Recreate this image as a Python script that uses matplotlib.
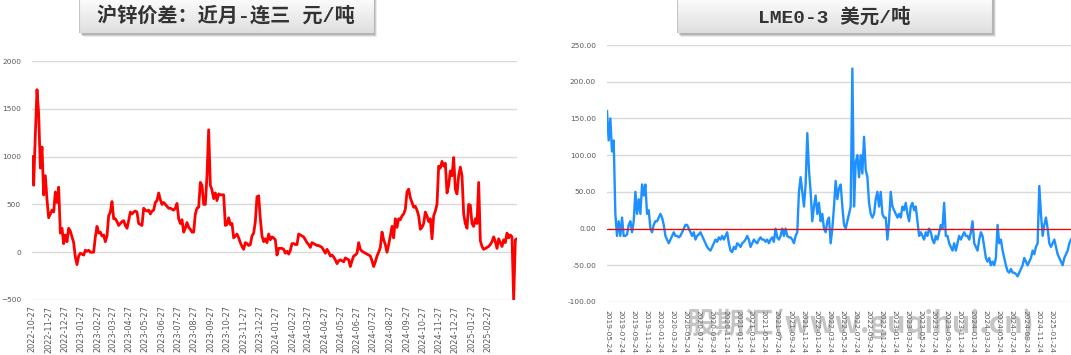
import numpy as np
import pandas as pd
import matplotlib
matplotlib.use('Agg')
import matplotlib.pyplot as plt
import matplotlib.dates as mdates
from matplotlib.patches import Rectangle
from matplotlib.ticker import FormatStrFormatter

# ---------------------------------------------------------------------------
# Data (read off the reference picture, sampled at even steps along the axis)
# ---------------------------------------------------------------------------
# 沪锌价差：近月-连三 (元/吨), 2022-10-27 .. 2025-04
spread_start, spread_end = '2022-10-27', '2025-04-22'
spread_values = [
    1000, 700, 1230, 1700, 1450, 880, 1100, 600, 800, 550, 360, 400, 440, 420,
    630, 520, 680, 200, 250, 90, 180, 110, 250, 220, 160, 100, -50, -130, -40,
    -10, -20, -30, 20, 10, 20, 0, 0, 0, 160, 270, 200, 210, 170, 180, 110, 170,
    380, 420, 530, 350, 350, 320, 280, 300, 320, 330, 280, 250, 330, 420, 400,
    420, 430, 420, 300, 290, 280, 460, 440, 430, 440, 400, 430, 440, 520, 540,
    620, 550, 500, 520, 500, 480, 460, 460, 450, 440, 460, 510, 350, 300, 340,
    210, 250, 310, 260, 240, 210, 210, 400, 460, 470, 730, 700, 500, 500, 800,
    1280, 700, 650, 560, 620, 540, 610, 600, 600, 600, 280, 290, 360, 290, 300,
    150, 170, 190, 150, 100, 60, 30, 100, 90, 70, 80, 170, 200, 320, 580, 590,
    350, 170, 110, 140, 100, 190, 130, 160, 150, 130, -30, 40, 40, 40, 30, -10,
    10, -20, 20, 90, 90, 80, 80, 190,
    180, 170, 160, 130, 100, 80, 50, 100, 90, 80, 70, 70, 60, 50, 20, -10, 30,
    0, -40, -30, -50, -80, -120, -90, -80, -90, -100, -60, -70, -80, -150, -90,
    -40, -30, -10, 100, 30, 10, 0, -10, -20, -30, -40, -90, -150, -100, -40, 0,
    50, 210, 130, 80, 0, 80, 170, 270, 150, 350, 260, 350, 340, 380, 400, 450,
    630, 660, 570, 520, 470, 480, 440, 380, 240, 260, 300, 420, 380, 320, 350,
    140, 380, 430, 500, 900, 880, 950, 900, 930, 620, 700, 850, 800, 990, 660,
    610, 800, 890, 800, 400, 300, 250, 500, 490, 300, 270, 350, 300, 730, 120,
    60, 30, 40, 50, 60, 80, 110, 160, 110, 40, 140, 100, 60, 130, 100, 200, 150,
    180, 160, -500, 130, 140,
]

# LME 0-3 (美元/吨), 2019-05-24 .. 2025-04
lme_start, lme_end = '2019-05-24', '2025-04-26'
lme_values = [
    160, 120, 150, 105, 120, 20, -10, 10, -10, 15, -10, -10, -8, 5, 10, -5, 10,
    50, 20, 40, 20, 60, 45, 60, 20, 25, 0, -5, 5, 10, 10, 15, 20, 15, 5, -10,
    -15, -20, -15, -10, -5, -10, -10, -12, -10, -5, 0, 5, 5, 0, -5, -10, -5,
    -15, -10, -8, -5, -10, -15, -20, -25, -28, -30, -25, -20, -15, -18, -12,
    -15, -10, -15, -10, -5, -20, -30, -32, -25, -28, -20, -22, -25, -20, -18,
    -15, -10, -15, -25, -20, -15, -18, -20, -15, -12, -15, -15, -18, -15, -20,
    -15, -12, -18, 0, -12, -15, -10, 0, -10, 0, -10, -12, -12, -15, -20, -10,
    -5, 50,
    70, 50, 30, 60, 130, 80, 50, 10, 30, 45, 20, 35, 10, 20, 0, -5, 10, 15,
    -20, 0, 30, 65, 40, 55, 60, 30, 5, 0, 10, 20, 30, 218, 30, 90, 100, 70, 100,
    75, 125, 80, 70, 35, 20, 15, 20, 40, 50, 30, 50, 20, 15, 15, -15, 10, 50,
    30, 25, 20, 15, 20, 15, 30, 25, 35, 20, 10, 30, 35, 25, 30, 10, -10, -5,
    -10, -15, -5, -10, 0, -5, -15, -20, -10, -15, -5, 5, 0, 35, -10, -10, -20,
    -25, -30, -20, -30, -20, -10, -15, -10, -5, -10, -10, -15, -5, 10, -20, -25,
    -30, -15, -5, -10, -25, -40, -45, -40, -50, -45, -50, -40, 5, -20, -15,
    -30, -40, -50, -58, -60, -55, -60, -60, -62, -65, -60, -55, -50, -40, -45,
    -50, -45, -40, -30, -35, -25, -20, 58, 20, -10, 5, 15, 0, -20, -25, -20,
    -15, -25, -35, -40, -45, -50, -40, -35, -30, -20, -15,
]

left_title = '沪锌价差：近月-连三 元/吨'
right_title = 'LME0-3 美元/吨'
watermark = '股期汇(www.guqihui.cn)'

spread_dates = pd.date_range(spread_start, spread_end, periods=len(spread_values))
lme_dates = pd.date_range(lme_start, lme_end, periods=len(lme_values))

# ---------------------------------------------------------------------------
W, H = 1071, 355
fig = plt.figure(figsize=(W / 100, H / 100), dpi=100)
title_font = ['Liberation Mono', 'Noto Sans CJK SC']
tick_color = '#595959'
grid_color = '#d9d9d9'


def box(x0, y0, x1, y1):
    """pixel box (top-left origin) -> figure fraction rect"""
    return [x0 / W, 1 - y1 / H, (x1 - x0) / W, (y1 - y0) / H]


def title_box(x0, x1, y1, text, size):
    # soft drop shadow
    for off, a in [(4, 0.15), (3, 0.25), (2, 0.35)]:
        fig.add_artist(Rectangle(((x0 + off) / W, 1 - (y1 + off) / H),
                                 (x1 - x0) / W, (y1 + off + 5) / H,
                                 transform=fig.transFigure, color='#808080',
                                 alpha=a, lw=0, zorder=1))
    bax = fig.add_axes(box(x0, -5, x1, y1), zorder=2)
    grad = np.linspace(1.0, 0.87, 60).reshape(-1, 1)
    bax.imshow(grad, cmap='gray', vmin=0, vmax=1, aspect='auto',
               extent=[0, 1, 0, 1])
    bax.add_patch(Rectangle((0, 0), 1, 1, fill=False, ec='#c4c4c4', lw=0.8,
                            transform=bax.transAxes))
    bax.set_xlim(0, 1)
    bax.set_ylim(0, 1)
    bax.axis('off')
    bax.text(0.5, 0.43, text, ha='center', va='center', fontsize=size,
             color='#333333', family=title_font, fontweight='bold',
             transform=bax.transAxes)


def style_axes(ax):
    for s in ax.spines.values():
        s.set_visible(False)
    ax.grid(axis='y', color=grid_color, lw=1.0)
    ax.set_axisbelow(True)
    ax.tick_params(axis='both', length=0, colors=tick_color)
    ax.tick_params(axis='y', labelsize=5.3, pad=7.9)


# ---- left: SHFE zinc spread ----
ax1 = fig.add_axes(box(32, 61, 517, 300))
ax1.plot(spread_dates, spread_values, color='#ff0000', lw=2.0)
ax1.set_ylim(-500, 2000)
ax1.set_yticks(np.arange(-500, 2001, 500))
ax1.set_xlim(spread_dates[0], spread_dates[-1])
ax1.set_xticks(pd.date_range('2022-10-01', '2025-02-01', freq='MS') + pd.Timedelta(days=26))
ax1.xaxis.set_major_formatter(mdates.DateFormatter('%Y-%m-%d'))
style_axes(ax1)
ax1.tick_params(axis='x', labelsize=5.9, pad=4)
plt.setp(ax1.get_xticklabels(), rotation=90, ha='center', va='top')

# ---- right: LME 0-3 ----
ax2 = fig.add_axes(box(607, 45, 1071, 302))
ax2.plot(lme_dates, lme_values, color='#1e90ff', lw=1.7)
ax2.axhline(0, color='#ff0000', lw=0.9)
ax2.set_ylim(-100, 250)
ax2.set_yticks(np.arange(-100, 251, 50))
ax2.yaxis.set_major_formatter(FormatStrFormatter('%.2f'))
ax2.set_xlim(lme_dates[0], lme_dates[-1])
ax2.set_xticks(pd.date_range('2019-05-01', '2025-01-01', freq='2MS') + pd.Timedelta(days=23))
ax2.xaxis.set_major_formatter(mdates.DateFormatter('%Y-%m-%d'))
style_axes(ax2)
ax2.tick_params(axis='x', labelsize=5.3, pad=6)
plt.setp(ax2.get_xticklabels(), rotation=-90, ha='center', va='top')

# ---- title boxes ----
title_box(79, 373, 33, left_title, 14.5)
title_box(677, 992, 33, right_title, 14)

# ---- watermark ----
fig.text(860 / W, 1 - 324 / H, watermark, ha='center', va='center',
         fontsize=21, fontweight='bold', color='#808080', alpha=0.45,
         family=['Noto Sans CJK SC', 'DejaVu Sans'], zorder=5)

fig.savefig('out.png', dpi=100)
